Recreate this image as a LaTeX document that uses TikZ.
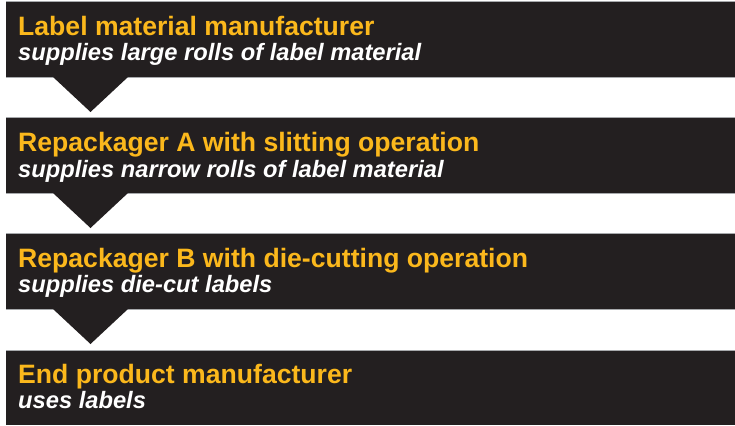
\documentclass[tikz,border=0pt]{standalone}
\usepackage{fontspec}
\setmainfont{Liberation Sans}
\definecolor{boxdark}{HTML}{231F20}
\definecolor{titleyellow}{HTML}{FBB81C}
\definecolor{edgegray}{HTML}{A7A9AC}
\begin{document}
\begin{tikzpicture}[x=1pt,y=1pt,
  box/.style={fill=boxdark, draw=none, anchor=north west, minimum width=729pt, minimum height=76pt, inner sep=0pt, outer sep=0pt},
  ttl/.style={anchor=base west, inner sep=0pt, text=titleyellow, font=\fontsize{26.6}{30}\selectfont\bfseries},
  sub/.style={anchor=base west, inner sep=0pt, text=white, font=\fontsize{23.7}{27}\selectfont\bfseries\itshape},
  arrowtri/.style={fill=boxdark, draw=none},
  edge/.style={draw=edgegray, line width=0.8pt}
]
\useasboundingbox (0,0) rectangle (735,-425);
\node[box] (b1) at (6,-1) {};
\node[box] (b2) at (6,-117) {};
\node[box] (b3) at (6,-233) {};
\node[box, minimum height=75pt] (b4) at (6,-350) {};
\foreach \b in {b1,b2,b3,b4}{
  \draw[edge] (\b.north west) -- (\b.north east);
}
\foreach \b in {b1,b2,b3}{
  \draw[edge] (\b.south west) -- (\b.south east);
  \fill[arrowtri] ([xshift=47pt]\b.south west) -- ([xshift=122pt]\b.south west) -- ([xshift=84.5pt,yshift=-35pt]\b.south west) -- cycle;
}
\node[ttl] (t1) at (18,-36) {Label material manufacturer};
\node[sub] (s1) at (18,-61) {supplies large rolls of label material};
\node[ttl] (t2) at (18,-151) {Repackager A with slitting operation};
\node[sub] (s2) at (18,-177) {supplies narrow rolls of label material};
\node[ttl] (t3) at (18,-267) {Repackager B with die-cutting operation};
\node[sub] (s3) at (18,-292) {supplies die-cut labels};
\node[ttl] (t4) at (18,-383) {End product manufacturer};
\node[sub] (s4) at (18,-408) {uses labels};
\end{tikzpicture}
\end{document}
